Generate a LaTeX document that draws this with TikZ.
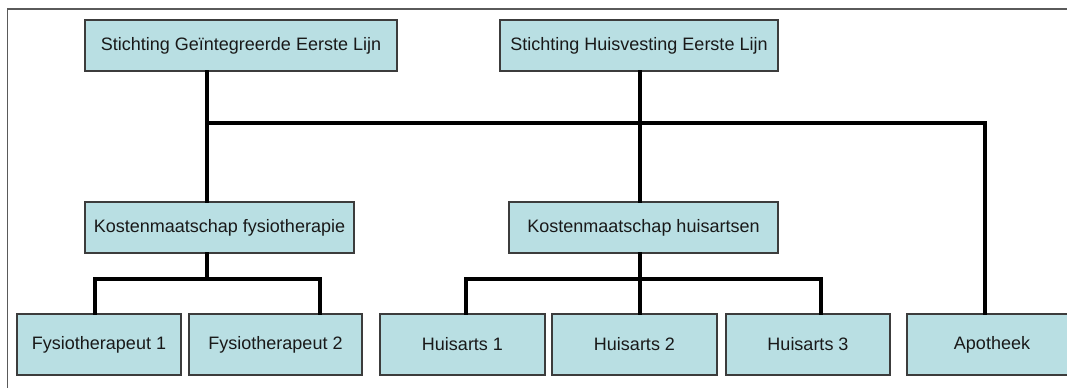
\documentclass[tikz,border=0pt]{standalone}
\usepackage{fontspec}
\setmainfont{Liberation Sans}
\definecolor{boxfill}{RGB}{185,223,227}
\definecolor{boxline}{RGB}{60,60,60}
\definecolor{framegray}{RGB}{90,90,90}
\begin{document}
\begin{tikzpicture}[x=0.75pt,y=-0.75pt,
  box/.style={draw=boxline, line width=0.9pt, fill=boxfill, inner sep=0pt,
    font=\fontsize{13.5}{16}\selectfont, text=black!90},
  conn/.style={line width=3pt, black, line join=miter, line cap=rect}]
\clip (0,0) rectangle (1067,387);
\fill[white] (0,0) rectangle (1067,387);
% frame
\draw[framegray, line width=1.1pt] (7.5,400) -- (7.5,9) -- (1080,9);

% boxes (centre, width, height in px)
\node[box, minimum width=312*0.75pt, minimum height=51*0.75pt] (sgel) at (241,45.5) {Stichting Geïntegreerde Eerste Lijn};
\node[box, minimum width=278*0.75pt, minimum height=51*0.75pt] (shel) at (639,45.5) {Stichting Huisvesting Eerste Lijn};
\node[box, minimum width=269*0.75pt, minimum height=51*0.75pt] (kfys) at (219.5,227.5) {Kostenmaatschap fysiotherapie};
\node[box, minimum width=269*0.75pt, minimum height=51*0.75pt] (khuis) at (643.5,227.5) {Kostenmaatschap huisartsen};
\node[box, minimum width=164*0.75pt, minimum height=61*0.75pt] (f1) at (99,344.5) {Fysiotherapeut 1};
\node[box, minimum width=173*0.75pt, minimum height=61*0.75pt] (f2) at (275.5,344.5) {Fysiotherapeut 2};
\node[box, minimum width=165*0.75pt, minimum height=61*0.75pt] (h1) at (462.5,344.5) {Huisarts 1};
\node[box, minimum width=165*0.75pt, minimum height=61*0.75pt] (h2) at (634.5,344.5) {Huisarts 2};
\node[box, minimum width=164*0.75pt, minimum height=61*0.75pt] (h3) at (808,344.5) {Huisarts 3};
\node[box, minimum width=170*0.75pt, minimum height=61*0.75pt] (apo) at (992,344.5) {Apotheek};

% connector bus points
\coordinate (mainL) at (207,123);
\coordinate (mainM) at (640,123);
\coordinate (mainR) at (985,123);
\coordinate (fysL) at (95,279);
\coordinate (fysM) at (207,279);
\coordinate (fysR) at (320,279);
\coordinate (huisL) at (466,279);
\coordinate (huisM) at (640,279);
\coordinate (huisR) at (821,279);

% top level
\draw[conn] (mainL |- sgel.south) -- (mainL |- kfys.north);
\draw[conn] (mainM |- shel.south) -- (mainM |- khuis.north);
\draw[conn] (mainL) -- (mainR) -- (mainR |- apo.north);

% physiotherapy branch
\draw[conn] (fysM |- kfys.south) -- (fysM);
\draw[conn] (fysL |- f1.north) -- (fysL) -- (fysR) -- (fysR |- f2.north);

% GP branch
\draw[conn] (huisM |- khuis.south) -- (huisM |- h2.north);
\draw[conn] (huisL |- h1.north) -- (huisL) -- (huisR) -- (huisR |- h3.north);
\end{tikzpicture}
\end{document}
